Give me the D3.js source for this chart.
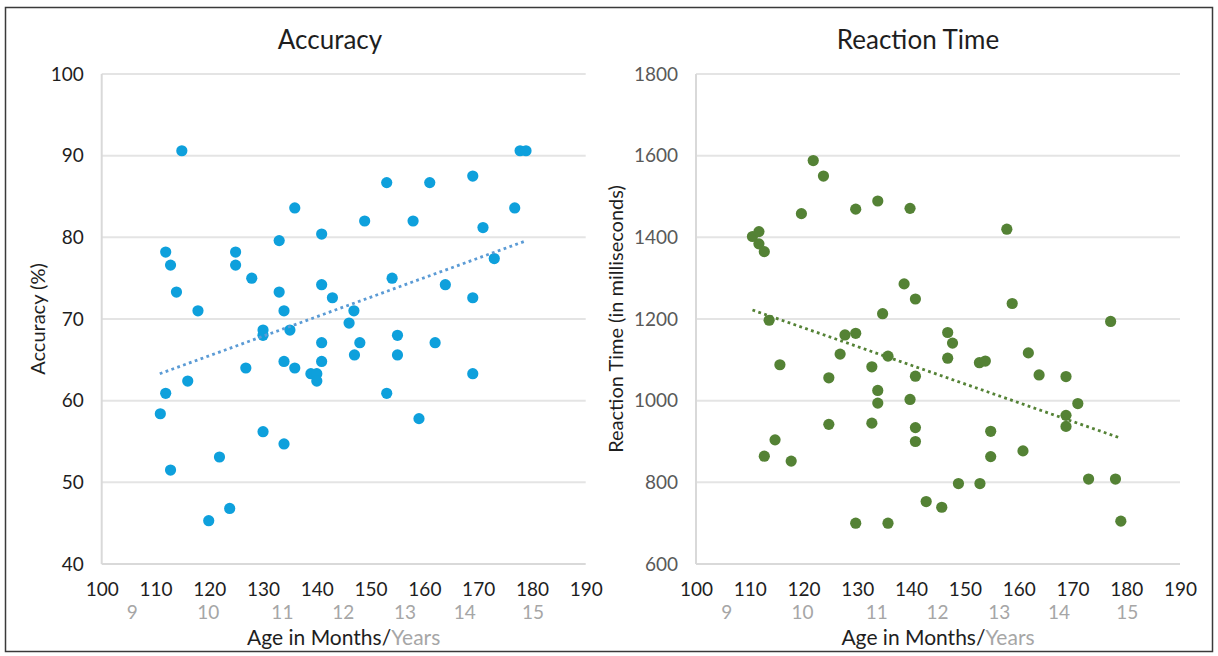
<!DOCTYPE html>
<html>
<head>
<meta charset="utf-8">
<script src="https://cdn.jsdelivr.net/npm/d3@7"></script>
<style>
  body { margin: 0; background: #fff; }
  text { font-family: Lato, "Noto Sans", sans-serif; }
</style>
</head>
<body>
<div id="chart"></div>
<script>
// age in months + accuracy (%) per child
var accAge = [110.9, 111.9, 111.9, 112.8, 112.8, 113.9, 114.9, 116.0, 117.9, 119.9,
  121.9, 123.8, 124.9, 124.9, 126.8, 127.9, 130.0, 130.0, 130.0, 133.0,
  133.0, 133.9, 133.9, 133.9, 135.0, 135.9, 135.9, 138.9, 140.0, 140.0,
  140.9, 140.9, 140.9, 140.9, 142.9, 146.0, 146.9, 147.0, 148.0, 148.9,
  153.0, 153.0, 154.0, 155.0, 155.0, 157.9, 159.0, 161.0, 162.0, 163.9,
  169.0, 169.0, 169.0, 170.9, 173.0, 176.8, 177.8, 178.9];
var accVal = [58.4, 78.2, 60.9, 76.6, 51.5, 73.3, 90.6, 62.4, 71.0, 45.3,
  53.1, 46.8, 78.2, 76.6, 64.0, 75.0, 68.65, 68.0, 56.2, 79.6,
  73.3, 71.0, 64.8, 54.7, 68.65, 83.6, 64.0, 63.3, 63.3, 62.4,
  80.4, 74.2, 67.1, 64.8, 72.6, 69.5, 71.0, 65.6, 67.1, 82.0,
  86.7, 60.9, 75.0, 68.0, 65.6, 82.0, 57.8, 86.7, 67.1, 74.2,
  87.5, 72.6, 63.3, 81.2, 77.4, 83.6, 90.6, 90.6];

// age in months + reaction time (ms)
var rtAge = [110.5, 111.7, 111.7, 112.7, 112.7, 113.6, 114.7, 115.6, 117.7, 119.6,
  121.8, 123.7, 124.7, 124.7, 126.8, 127.7, 129.7, 129.7, 129.7, 132.7,
  132.7, 133.8, 133.8, 133.8, 134.7, 135.7, 135.7, 138.7, 139.8, 139.8,
  140.8, 140.8, 140.8, 140.8, 142.8, 145.7, 146.8, 146.8, 147.7, 148.8,
  152.7, 152.8, 153.8, 154.8, 154.8, 157.8, 158.8, 160.8, 161.8, 163.8,
  168.8, 168.8, 168.8, 171.0, 173.0, 177.1, 178.0, 179.0];
var rtVal = [1402, 1414, 1384, 1365, 864, 1197, 904, 1088, 852, 1458,
  1588, 1550, 1056, 942, 1114, 1161, 1469, 1165, 700, 1083,
  945, 1489, 1025, 994, 1213, 1109, 700, 1286, 1471, 1003,
  1249, 1060, 934, 900, 753, 739, 1167, 1104, 1141, 797,
  1093, 797, 1097, 925, 863, 1420, 1238, 877, 1117, 1063,
  1059, 964, 937, 993, 808, 1194, 808, 705];

// linear trend line end points
var accTrend = [[110.8, 63.3], [179.0, 79.6]];
var rtTrend = [[110.5, 1222], [179.0, 908]];

var monthTicks = [100, 110, 120, 130, 140, 150, 160, 170, 180, 190];
var yearLabels = [9, 10, 11, 12, 13, 14, 15];
var yearAt = [105.7, 119.8, 133.6, 144.9, 156.4, 167.5, 180.2]; // month position of each year label
var accTicks = [40, 50, 60, 70, 80, 90, 100];
var rtTicks = [600, 800, 1000, 1200, 1400, 1600, 1800];

var W = 1218, H = 656;
var svg = d3.select("#chart").append("svg")
  .attr("width", W)
  .attr("height", H);

// outer frame
svg.append("rect")
  .attr("x", 5.5).attr("y", 7.5)
  .attr("width", 1207).attr("height", 644)
  .attr("fill", "none")
  .attr("stroke", "#3a3a3a")
  .attr("stroke-width", 1.5);

function panel(o) {
  var top = 74, bottom = 564;
  var x = d3.scaleLinear().domain([100, 190]).range([o.left, o.left + 484]);
  var y = d3.scaleLinear().domain(o.domain).range([bottom, top]);
  var g = svg.append("g");

  // gridlines
  g.selectAll(".grid")
    .data(o.ticks.slice(1))
    .enter().append("line")
      .attr("x1", x(100)).attr("x2", x(190))
      .attr("y1", d => y(d)).attr("y2", d => y(d))
      .attr("stroke", "#e4e4e4")
      .attr("stroke-width", 2);

  // y axis (labels only) + axis line
  var ya = g.append("g")
    .attr("transform", "translate(" + x(100) + ",0)")
    .call(d3.axisLeft(y).tickValues(o.ticks).tickSize(0).tickPadding(18).tickFormat(d3.format("d")));
  ya.select(".domain").remove();
  ya.selectAll("text")
    .attr("fill", o.yTickColor)
    .style("font-size", "19px");
  g.append("line")
    .attr("x1", x(100)).attr("x2", x(100))
    .attr("y1", top).attr("y2", bottom)
    .attr("stroke", "#d9d9d9").attr("stroke-width", 2);

  // x axis: months
  var xa = g.append("g")
    .attr("transform", "translate(0," + bottom + ")")
    .call(d3.axisBottom(x).tickValues(monthTicks).tickSize(0).tickPadding(19).tickFormat(d3.format("d")));
  xa.select(".domain").remove();
  xa.selectAll("text")
    .attr("fill", "#1e1e1e")
    .style("font-size", "19px");
  g.append("line")
    .attr("x1", x(100)).attr("x2", x(190))
    .attr("y1", bottom).attr("y2", bottom)
    .attr("stroke", "#d9d9d9").attr("stroke-width", 2);

  // second row: years
  g.selectAll(".yr")
    .data(yearLabels)
    .enter().append("text")
      .attr("x", (d, i) => x(yearAt[i]))
      .attr("y", 619)
      .attr("text-anchor", "middle")
      .attr("fill", "#a6a6a6")
      .style("font-size", "19px")
      .text(d => d);

  // axis titles
  var t = g.append("text")
    .attr("x", x(145))
    .attr("y", 645)
    .attr("text-anchor", "middle")
    .style("font-size", "21px");
  t.append("tspan").attr("fill", "#1e1e1e").text("Age in Months/");
  t.append("tspan").attr("fill", "#a6a6a6").text("Years");

  g.append("text")
    .attr("transform", "translate(" + o.yTitleX + "," + ((top + bottom) / 2) + ") rotate(-90)")
    .attr("text-anchor", "middle")
    .attr("fill", "#1e1e1e")
    .style("font-size", o.yTitleSize)
    .text(o.yTitle);

  g.append("text")
    .attr("x", o.titleX)
    .attr("y", 49)
    .attr("text-anchor", "middle")
    .attr("fill", "#1e1e1e")
    .style("font-size", "26px")
    .text(o.title);

  // dots
  g.selectAll(".dot")
    .data(o.ages)
    .enter().append("circle")
      .attr("cx", d => x(d))
      .attr("cy", (d, i) => y(o.vals[i]))
      .attr("r", 5.6)
      .attr("fill", o.color);

  // dotted trend line
  g.append("path")
    .datum(o.trend)
    .attr("d", d3.line().x(d => x(d[0])).y(d => y(d[1])))
    .attr("fill", "none")
    .attr("stroke", o.trendColor)
    .attr("stroke-width", 2.8)
    .attr("stroke-dasharray", "2.8,3.4");
}

panel({
  left: 101.7, domain: [40, 100], ticks: accTicks,
  ages: accAge, vals: accVal, trend: accTrend,
  color: "#0ea0dc", trendColor: "#5b9bd5", yTickColor: "#1e1e1e",
  title: "Accuracy", titleX: 330, yTitle: "Accuracy (%)", yTitleX: 45, yTitleSize: "20px"
});

panel({
  left: 696, domain: [600, 1800], ticks: rtTicks,
  ages: rtAge, vals: rtVal, trend: rtTrend,
  color: "#548235", trendColor: "#548235", yTickColor: "#595959",
  title: "Reaction Time", titleX: 918, yTitle: "Reaction Time (in milliseconds)", yTitleX: 623, yTitleSize: "20px"
});
</script>
</body>
</html>
